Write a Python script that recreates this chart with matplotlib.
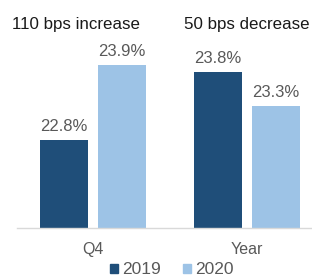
import matplotlib
matplotlib.use("Agg")
import matplotlib.pyplot as plt
from matplotlib.patches import Patch
import numpy as np

plt.rcParams['font.family'] = ['Liberation Sans', 'DejaVu Sans']

categories = ["Q4", "Year"]
series_names = ["2019", "2020"]
values_2019 = [22.8, 23.8]
values_2020 = [23.9, 23.3]
titles = ["110 bps increase", "50 bps decrease"]
colors = ["#1F4E79", "#9DC3E6"]

W, H = 312, 279
fig = plt.figure(figsize=(W / 100, H / 100), dpi=100)
ax = fig.add_axes([17 / W, 1 - 228 / H, 295 / W, 198 / H])

x = np.arange(len(categories))
bw = 0.312
off = 0.187
b1 = ax.bar(x - off, values_2019, bw, color=colors[0])
b2 = ax.bar(x + off, values_2020, bw, color=colors[1])

for bars, vals in ((b1, values_2019), (b2, values_2020)):
    for b, v in zip(bars, vals):
        ax.annotate(f"{v:.1f}%", (b.get_x() + b.get_width() / 2, v),
                    xytext=(0, 4), textcoords="offset points",
                    ha="center", va="bottom", fontsize=12, color="#595959")

ax.set_ylim(21.5, 21.5 + 198 / 68)
ax.set_xlim(-0.494, 1.422)
ax.set_yticks([])
ax.set_xticks(x)
ax.set_xticklabels(categories, fontsize=11.5, color="#595959")
ax.tick_params(axis="x", length=0, pad=10)
for s in ["top", "right", "left"]:
    ax.spines[s].set_visible(False)
ax.spines["bottom"].set_color("#D9D9D9")
ax.spines["bottom"].set_linewidth(1)

title_x = [76.5 / W, 246.5 / W]
for tx, t in zip(title_x, titles):
    fig.text(tx, 1 - 25 / H, t, ha="center", va="center", fontsize=12.2, color="#1a1a1a")

handles = [Patch(color=c, label=n) for c, n in zip(colors, series_names)]
fig.legend(handles=handles, loc="center", bbox_to_anchor=(172 / W, 1 - 270 / H),
           ncol=2, frameon=False, fontsize=12.5, handlelength=0.42, handleheight=0.42,
           handletextpad=0.25, columnspacing=1.3, labelcolor="#595959")

fig.savefig("out.png", dpi=100)
